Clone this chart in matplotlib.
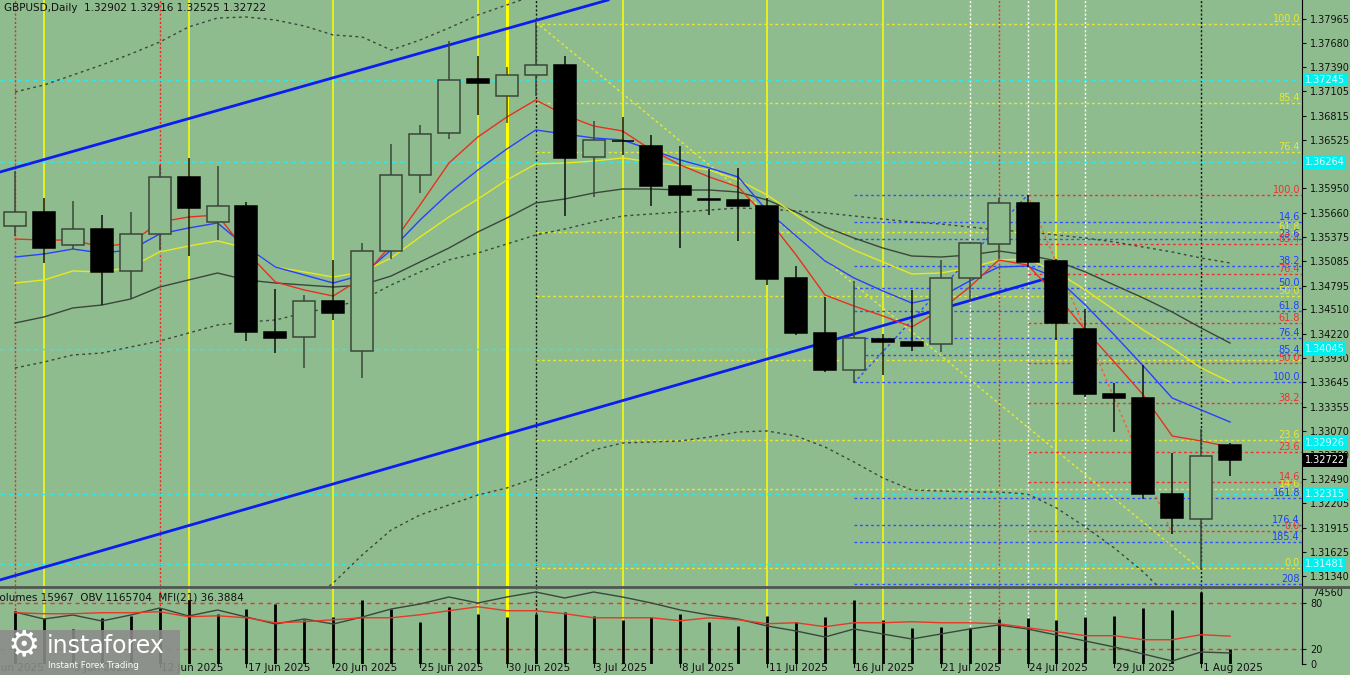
import matplotlib
matplotlib.use('Agg')
import matplotlib.pyplot as plt
import matplotlib.transforms as mtransforms
from matplotlib.patches import Rectangle
from matplotlib.lines import Line2D

# --- data (GBPUSD daily, bar 0 = 5 Jun 2025) ---
opens = [1.35503, 1.35669, 1.35277, 1.35467, 1.34968, 1.35408, 1.36086, 1.35550, 1.35741, 1.34242,
         1.34183, 1.34611, 1.34016, 1.35206, 1.36110, 1.36609, 1.37251, 1.37049, 1.37299, 1.37418,
         1.36324, 1.36514, 1.36455, 1.35979, 1.35830, 1.35812, 1.35741, 1.34885, 1.34230, 1.33790,
         1.34159, 1.34123, 1.34100, 1.34885, 1.35289, 1.35777, 1.35087, 1.34278, 1.33505, 1.33457,
         1.32315, 1.32018, 1.32902]
highs = [1.36157, 1.35836, 1.35800, 1.35634, 1.35669, 1.36229, 1.36312, 1.36217, 1.35788, 1.34754,
         1.34682, 1.35099, 1.35301, 1.36478, 1.36704, 1.37703, 1.37525, 1.37394, 1.37929, 1.37525,
         1.36752, 1.36799, 1.36585, 1.36455, 1.36181, 1.36193, 1.35836, 1.35027, 1.34659, 1.34849,
         1.34218, 1.34742, 1.35099, 1.35313, 1.35836, 1.35872, 1.35110, 1.34516, 1.33636, 1.33850,
         1.32803, 1.33089, 1.32916]
lows = [1.35384, 1.35063, 1.35229, 1.34563, 1.34635, 1.35218, 1.35146, 1.35336, 1.34135, 1.33992,
        1.33814, 1.34385, 1.33695, 1.35110, 1.35895, 1.36538, 1.36823, 1.36728, 1.37050, 1.35622,
        1.35848, 1.36347, 1.35741, 1.35241, 1.35634, 1.35325, 1.34801, 1.34207, 1.33766, 1.33636,
        1.33731, 1.34016, 1.34004, 1.34599, 1.35110, 1.35015, 1.34147, 1.33469, 1.33053, 1.32256,
        1.31840, 1.31411, 1.32525]
closes = [1.35669, 1.35241, 1.35467, 1.34956, 1.35408, 1.36086, 1.35717, 1.35741, 1.34242, 1.34171,
          1.34611, 1.34468, 1.35206, 1.36110, 1.36597, 1.37240, 1.37204, 1.37299, 1.37418, 1.36312,
          1.36526, 1.36508, 1.35979, 1.35872, 1.35818, 1.35741, 1.34873, 1.34230, 1.33790, 1.34171,
          1.34123, 1.34076, 1.34885, 1.35301, 1.35777, 1.35075, 1.34349, 1.33505, 1.33457, 1.32315,
          1.32030, 1.32767, 1.32722]

ma_red = [1.35348, 1.35336, 1.35336, 1.35253, 1.35301, 1.35550, 1.35610, 1.35634, 1.35194, 1.34837,
          1.34742, 1.34670, 1.34885, 1.35277, 1.35753, 1.36252, 1.36562, 1.36799, 1.37002, 1.36823,
          1.36692, 1.36633, 1.36407, 1.36229, 1.36086, 1.35967, 1.35598, 1.35158, 1.34682, 1.34551,
          1.34433, 1.34302, 1.34504, 1.34777, 1.35099, 1.35039, 1.34682, 1.34266, 1.33885, 1.33493,
          1.33005, 1.32946, 1.32874]
ma_blue = [1.35134, 1.35170, 1.35229, 1.35182, 1.35218, 1.35408, 1.35479, 1.35539, 1.35253, 1.35015,
           1.34920, 1.34825, 1.34920, 1.35218, 1.35574, 1.35895, 1.36169, 1.36419, 1.36645, 1.36597,
           1.36550, 1.36526, 1.36407, 1.36288, 1.36193, 1.36086, 1.35681, 1.35384, 1.35087, 1.34885,
           1.34730, 1.34587, 1.34659, 1.34849, 1.35015, 1.35027, 1.34885, 1.34563, 1.34207, 1.33838,
           1.33457, 1.33315, 1.33172]
ma_yellow = [1.34825, 1.34861, 1.34968, 1.34956, 1.35015, 1.35194, 1.35265, 1.35325, 1.35241, 1.35015,
             1.34956, 1.34896, 1.34956, 1.35122, 1.35372, 1.35610, 1.35824, 1.36050, 1.36240, 1.36252,
             1.36276, 1.36312, 1.36264, 1.36217, 1.36169, 1.36050, 1.35872, 1.35634, 1.35396, 1.35218,
             1.35075, 1.34932, 1.34944, 1.35003, 1.35099, 1.35110, 1.34956, 1.34742, 1.34504, 1.34266,
             1.34052, 1.33814, 1.33648]
ma_gray = [1.34349, 1.34421, 1.34528, 1.34563, 1.34635, 1.34777, 1.34861, 1.34944, 1.34861, 1.34825,
           1.34801, 1.34777, 1.34801, 1.34908, 1.35075, 1.35241, 1.35432, 1.35598, 1.35777, 1.35824,
           1.35895, 1.35943, 1.35943, 1.35931, 1.35931, 1.35907, 1.35812, 1.35669, 1.35491, 1.35360,
           1.35241, 1.35146, 1.35134, 1.35158, 1.35206, 1.35158, 1.35087, 1.34956, 1.34801, 1.34647,
           1.34480, 1.34290, 1.34111]
band_mid = [1.33814, 1.33885, 1.33969, 1.33992, 1.34064, 1.34135, 1.34230, 1.34325, 1.34361, 1.34385,
            1.34468, 1.34540, 1.34623, 1.34801, 1.34956, 1.35099, 1.35182, 1.35289, 1.35396, 1.35467,
            1.35550, 1.35622, 1.35646, 1.35669, 1.35693, 1.35717, 1.35705, 1.35681, 1.35658, 1.35622,
            1.35586, 1.35550, 1.35527, 1.35491, 1.35455, 1.35432, 1.35396, 1.35360, 1.35313, 1.35253,
            1.35194, 1.35122, 1.35063]
# upper band only while it is on screen (bars 0..21)
band_up = [1.37097, 1.37180, 1.37299, 1.37418, 1.37549, 1.37691, 1.37870, 1.37977, 1.37989, 1.37953,
           1.37882, 1.37775, 1.37751, 1.37596, 1.37715, 1.37858, 1.38013, 1.38132, 1.38250, 1.38310,
           1.38369, 1.38405]
# lower band, bars 10..40
band_low = [1.30995, 1.31257, 1.31590, 1.31887, 1.32066, 1.32185, 1.32303, 1.32387, 1.32506, 1.32660,
            1.32839, 1.32922, 1.32934, 1.32946, 1.32993, 1.33053, 1.33065, 1.33005, 1.32874, 1.32696,
            1.32506, 1.32363, 1.32351, 1.32339, 1.32339, 1.32315, 1.32149, 1.31923, 1.31673, 1.31388,
            1.31055]

volumes = [54900, 47640, 36250, 47640, 49710, 57990, 66280, 51780, 56960, 62140,
           45570, 48670, 66280, 56960, 43500, 59030, 51780, 48670, 51780, 53850,
           49710, 45570, 48670, 51780, 43500, 39350, 49710, 43500, 48670, 66280,
           45570, 37280, 38320, 37280, 46600, 47640, 45570, 48670, 49710, 57990,
           55920, 74560, 15967]
obv = [1501900, 1444500, 1477300, 1428100, 1477300, 1534700, 1469100, 1518300, 1460900, 1403500,
       1444500, 1403500, 1460900, 1526500, 1567500, 1624900, 1575700, 1624900, 1665900, 1616700,
       1665900, 1624900, 1575700, 1518300, 1477300, 1444500, 1387100, 1346100, 1296900, 1362500,
       1321500, 1280500, 1321500, 1362500, 1395300, 1362500, 1313300, 1264100, 1214900, 1157500,
       1100100, 1173900, 1165704]
mfi = [67.0, 65.7, 65.7, 67.0, 67.0, 68.3, 61.7, 63.0, 60.4, 53.9,
       55.2, 57.8, 60.4, 60.4, 64.3, 69.6, 74.8, 69.6, 69.6, 65.7,
       60.4, 60.4, 60.4, 56.5, 60.4, 57.8, 52.6, 53.9, 48.7, 53.9,
       53.9, 55.2, 53.9, 53.9, 52.6, 47.4, 42.2, 37.0, 37.0, 31.7,
       31.7, 38.3, 36.39]

# price scale labels (1.36235 sits under a cyan box in the original)
price_ticks = [1.37965, 1.37680, 1.37390, 1.37105, 1.36815, 1.36525, 1.35950, 1.35660,
               1.35375, 1.35085, 1.34795, 1.34510, 1.34220, 1.33930, 1.33645, 1.33355, 1.33070,
               1.32780, 1.32490, 1.32205, 1.31915, 1.31625, 1.31340]
date_pos = [-1, 2, 5, 8, 11, 14, 17, 20, 23, 26, 29, 32, 35, 38, 41]
date_labels = ['4 Jun 2025', '9 Jun 2025', '12 Jun 2025', '17 Jun 2025', '20 Jun 2025', '25 Jun 2025',
               '30 Jun 2025', '3 Jul 2025', '8 Jul 2025', '11 Jul 2025', '16 Jul 2025', '21 Jul 2025',
               '24 Jul 2025', '29 Jul 2025', '1 Aug 2025']

# horizontal levels
cyan_levels = [1.37245, 1.36264, 1.34045, 1.32315, 1.31481]
cyan_boxes = [1.37245, 1.36264, 1.34045, 1.32926, 1.32315, 1.31481]
fib_ratios = [0.0, 14.6, 23.6, 38.2, 50.0, 61.8, 76.4, 85.4, 100.0]
blue_ratios = [14.6, 23.6, 38.2, 50.0, 61.8, 76.4, 85.4, 100.0, 161.8, 176.4, 185.4, 208.0]
yellow_fib = (18, 1.37906, 1.31435)   # start bar, 100 level, 0 level
red_fib = (35, 1.35872, 1.31875)
blue_fib = (29, 1.35872, 1.33648)     # start bar, 0 level, 100 level

# vertical markers
vl_yellow = [1, 6, 11, 16, 21, 26, 30, 36]
vl_yellow_thick = [17]
vl_red = [0, 5, 34]
vl_black = [18, 41]
vl_white = [33, 35, 37]

# channel and swing lines (bar, price)
chan_up = ([-0.52, 20.5], [1.36145, 1.38191])
chan_low = ([-0.52, 35.6], [1.31293, 1.34873])
swing_yellow = ([18, 41], [1.37929, 1.31411])
swing_blue = ([29, 35], [1.33636, 1.35872])
swing_red = ([35, 40], [1.35872, 1.31840])

BG = '#8FBC8F'
W, H = 1350, 675
XL = (-0.5185, 44.487)
n = len(closes)
bars = list(range(n))

fig = plt.figure(figsize=(13.5, 6.75), dpi=100)
fig.patch.set_facecolor(BG)
ax = fig.add_axes([0, 1 - 586 / H, 1302 / W, 586 / H])
axv = fig.add_axes([0, 1 - 664 / H, 1302 / W, 76 / H])
for a in (ax, axv):
    a.set_facecolor(BG)
    for s in ('top', 'left', 'bottom'):
        a.spines[s].set_visible(False)
    a.spines['right'].set_color('black')
    a.set_xlim(*XL)
    a.set_xticks([])
ax.set_ylim(1.31221, 1.38191)

# vertical lines through both panels
for a in (ax, axv):
    for b in vl_yellow:
        a.axvline(b, color='#FFFF00', lw=1.1, zorder=1)
    for b in vl_yellow_thick:
        a.axvline(b, color='#FFFF00', lw=2.2, zorder=1)
    for b in vl_red:
        a.axvline(b, color='#FF2020', lw=1, ls=(0, (1.5, 1.5)), zorder=1)
    for b in vl_black:
        a.axvline(b, color='#111111', lw=1, ls=(0, (1.5, 1.5)), zorder=1)
    for b in vl_white:
        a.axvline(b, color='#FFFFFF', lw=1, ls=(0, (1.5, 1.5)), zorder=1)

# horizontal cyan lines
for p in cyan_levels:
    ax.axhline(p, color='#30E8E8', lw=1, ls=(0, (3, 3)), zorder=2)

xr = XL[1]
lab_x = 44.42
dash = (0, (2, 2))

# yellow fib
b0, hi, lo = yellow_fib
for r in fib_ratios:
    p = lo + r / 100 * (hi - lo)
    ax.hlines(p, b0, xr, color='#E8E830', lw=1, ls=dash, zorder=2)
    if r != 38.2:
        ax.text(lab_x, p, f'{r:.1f}', color='#E8E830', fontsize=7, ha='right', va='bottom', zorder=3)

# blue fib
b0, p0, p100 = blue_fib
ax.hlines(p0, b0, red_fib[0], color='#3050FF', lw=1, ls=dash, zorder=2)
for r in blue_ratios:
    p = p0 + r / 100 * (p100 - p0)
    ax.hlines(p, b0, xr, color='#3050FF', lw=1, ls=dash, zorder=2)
    lab = '208' if r == 208.0 else f'{r:.1f}'
    ax.text(lab_x, p, lab, color='#2040FF', fontsize=7, ha='right', va='bottom', zorder=3)

# red fib
b0, hi, lo = red_fib
for r in fib_ratios:
    p = lo + r / 100 * (hi - lo)
    ax.hlines(p, b0, xr, color='#F03030', lw=1, ls=dash, zorder=2)
    ax.text(lab_x, p, f'{r:.1f}', color='#F03030', fontsize=7, ha='right', va='bottom', zorder=3)

# diagonal swing lines
ax.plot(*swing_yellow, color='#E8E830', lw=1, ls=dash, zorder=2)
ax.plot(*swing_blue, color='#3050FF', lw=1, ls=dash, zorder=2)
ax.plot(*swing_red, color='#F06030', lw=1, ls=dash, zorder=2)

# channel
ax.plot(*chan_up, color='#0A1EF0', lw=2, zorder=3)
ax.plot(*chan_low, color='#0A1EF0', lw=2, zorder=3)

# bands and moving averages
ax.plot(bars[:len(band_up)], band_up, color='#3C463C', lw=1, ls=(0, (2, 2.5)), zorder=3)
ax.plot(bars, band_mid, color='#3C463C', lw=1, ls=(0, (2, 2.5)), zorder=3)
ax.plot(bars[10:10 + len(band_low)], band_low, color='#3C463C', lw=1, ls=(0, (2, 2.5)), zorder=3)
ax.plot(bars, ma_gray, color='#3A463A', lw=1, zorder=4)
ax.plot(bars, ma_yellow, color='#E8E820', lw=1, zorder=4)
ax.plot(bars, ma_blue, color='#2840FF', lw=1, zorder=4)
ax.plot(bars, ma_red, color='#E83020', lw=1, zorder=4)

# candles
for i in bars:
    o, h, l, c = opens[i], highs[i], lows[i], closes[i]
    top, bot = max(o, c), min(o, c)
    bull = c > o
    wick = '#3A463A' if bull else '#101010'
    ax.vlines(i, top, h, color=wick, lw=1.1, zorder=6)
    ax.vlines(i, l, bot, color=wick, lw=1.1, zorder=6)
    ax.add_patch(Rectangle((i - 0.38, bot), 0.76, max(top - bot, 0.00002),
                           facecolor=BG if bull else 'black',
                           edgecolor='#3A463A' if bull else 'black', lw=1.1, zorder=7))

# price scale
ax.yaxis.tick_right()
ax.set_yticks(price_ticks)
ax.set_yticklabels([f'{t:.5f}' for t in price_ticks])
ax.tick_params(axis='y', length=3, width=0.8, pad=3, labelsize=7, colors='#101010')

trans = mtransforms.blended_transform_factory(ax.transAxes, ax.transData)
for p in cyan_boxes:
    ax.text(1.002, p, f'{p:.5f}', transform=trans, fontsize=7, color='#D8FFFF', ha='left', va='center',
            clip_on=False, zorder=20,
            bbox=dict(boxstyle='square,pad=0.2', facecolor='#00F0F0', edgecolor='none'))
ax.text(1.002, closes[-1], f'{closes[-1]:.5f}', transform=trans, fontsize=7, color='white', ha='left',
        va='center', clip_on=False, zorder=21,
        bbox=dict(boxstyle='square,pad=0.2', facecolor='black', edgecolor='none'))

ax.text(0.003, 0.986, 'GBPUSD,Daily  1.32902 1.32916 1.32525 1.32722', transform=ax.transAxes,
        fontsize=7.5, color='#101010', ha='left', va='center')

# lower panel: volumes, OBV, MFI
axv.set_ylim(0, 99.3)
axv.axhline(80, color='#F03030', lw=1, ls=(0, (3, 3)), zorder=2)
axv.axhline(20, color='#F03030', lw=1, ls=(0, (3, 3)), zorder=2)

axvol = axv.twinx()
axvol.set_ylim(0, 74560 * 76 / 72)
axvol.set_xlim(*XL)
axvol.vlines(bars, 0, volumes, color='black', lw=2, zorder=3)
axvol.set_yticks([74560])
axvol.tick_params(axis='y', length=0, pad=7, labelsize=7, colors='#101010')
for s in ('top', 'left', 'bottom'):
    axvol.spines[s].set_visible(False)

axobv = axv.twinx()
axobv.set_ylim(1075500, 1698700)
axobv.set_xlim(*XL)
axobv.plot(bars, obv, color='#3A463A', lw=1, zorder=4)
axobv.set_yticks([])
for s in ('top', 'left', 'bottom', 'right'):
    axobv.spines[s].set_visible(False)

axmfi = axv.twinx()
axmfi.set_ylim(0, 99.3)
axmfi.set_xlim(*XL)
axmfi.plot(bars, mfi, color='#E83828', lw=1, zorder=5)
axmfi.set_yticks([])
for s in ('top', 'left', 'bottom', 'right'):
    axmfi.spines[s].set_visible(False)

# twinx moves the host ticks to the left, so put them back on the right
axv.yaxis.tick_right()
axv.set_yticks([0, 20, 80])
axv.tick_params(axis='y', length=3, width=0.8, pad=3, labelsize=7, colors='#101010')

fig.text(-7 / W, 1 - 597 / H, 'Volumes 15967  OBV 1165704  MFI(21) 36.3884', fontsize=7.5,
         color='#101010', ha='left', va='center')

# panel separator
fig.add_artist(Line2D([0, 1], [1 - 587 / H, 1 - 587 / H], color='#505850', lw=2))

# dates under the lower panel
dtrans = mtransforms.blended_transform_factory(axv.transData, fig.transFigure)
for b, lab in zip(date_pos, date_labels):
    axv.text(b + 0.05, 1 - 668 / H, lab, transform=dtrans, fontsize=7.5, color='#101010',
             ha='left', va='center', clip_on=False)
    axv.plot([b, b], [1 - 664 / H, 1 - 667 / H], transform=dtrans, color='#101010', lw=0.8,
             clip_on=False)

# watermark
fig.add_artist(Rectangle((0, 0), 180 / W, 45 / H, transform=fig.transFigure,
                         facecolor='#8C8C8C', edgecolor='none', alpha=0.88, zorder=30))
fig.text(24 / W, 1 - 645 / H, '\u2699', fontsize=26, color='white', ha='center', va='center', zorder=31)
fig.text(47 / W, 1 - 646 / H, 'instaforex', fontsize=17, color='white', ha='left', va='center', zorder=31)
fig.text(48 / W, 1 - 665 / H, 'Instant Forex Trading', fontsize=6.2, color='white', ha='left',
         va='center', zorder=31)

fig.savefig('out.png', dpi=100, facecolor=BG)
